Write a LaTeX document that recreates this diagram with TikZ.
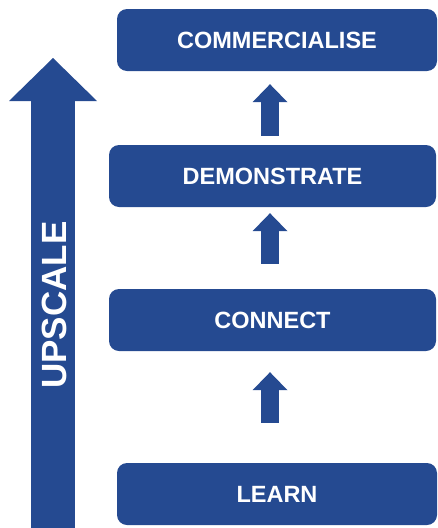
\documentclass[tikz,border=0pt]{standalone}
\usepackage{fontspec}
\setmainfont{Liberation Sans}
\usetikzlibrary{arrows.meta, positioning}
\definecolor{stageblue}{RGB}{37,74,145}
\tikzset{
   stagebox/.style={
     fill=stageblue, rounded corners=10pt, text=white,
     minimum height=62pt, inner sep=0pt,
     font=\fontsize{23.5}{28}\selectfont\bfseries
   },
   widebox/.style={
      stagebox,
      minimum width=327pt
   },
   narrowbox/.style={
      stagebox,
      minimum width=320pt
   },
   steparrow/.style={
      draw=stageblue, line width=18pt,
      -{Triangle[width=35pt,length=18pt,line width=0pt]}
   },
   scalearrow/.style={
      draw=stageblue, line width=44pt,
      -{Triangle[width=88pt,length=43pt,line width=0pt]}
   }
}

\begin{document}
\begin{tikzpicture}[x=1pt, y=-1pt]
            \useasboundingbox (0,0) rectangle (438,528);
            \node[narrowbox](commercialise) at (277,40) {COMMERCIALISE};
            \node[widebox](demonstrate) at (272.5,176) {DEMONSTRATE};
            \node[widebox](connect) at (272.5,320) {CONNECT};
            \node[narrowbox](learn) at (277,494) {LEARN};

            \draw[steparrow, shorten <=40pt, shorten >=21pt] ([xshift=-7pt]learn.north) -- ([xshift=-2.5pt]connect.south);
            \draw[steparrow, shorten <=25pt, shorten >=6pt] ([xshift=-2.5pt]connect.north) -- ([xshift=-2.5pt]demonstrate.south);
            \draw[steparrow, shorten <=9pt, shorten >=13pt] ([xshift=-2.5pt]demonstrate.north) -- ([xshift=-7pt]commercialise.south);

            \coordinate (upfoot) at (53,528);
            \coordinate (uptop) at (53,58);
            \draw[scalearrow] (upfoot) -- (uptop);
            \node[rotate=90, text=white, font=\fontsize{35}{40}\selectfont\bfseries](upscale) at (54,305) {UPSCALE};
         \end{tikzpicture}
\end{document}
